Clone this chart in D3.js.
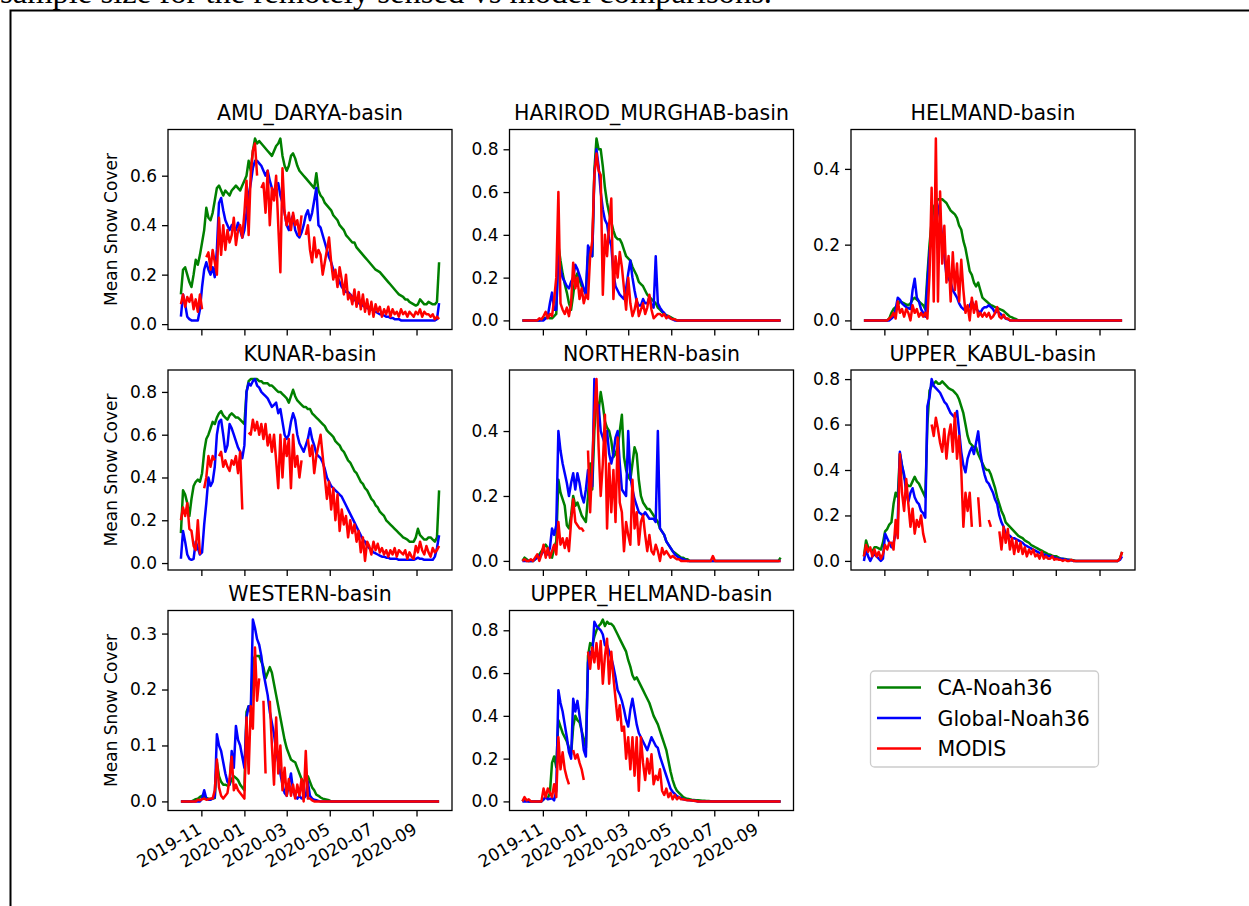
<!DOCTYPE html>
<html>
<head>
<meta charset="utf-8">
<script src="https://cdn.jsdelivr.net/npm/d3@7"></script>
<style>
  body { margin: 0; background: #fff; }
  svg { display: block; }
  text { font-family: "DejaVu Sans", sans-serif; fill: #000; }
</style>
</head>
<body>
<div id="chart"></div>
<script>
// panel titles, series names, ticks
const panelNames = ["AMU_DARYA-basin", "HARIROD_MURGHAB-basin", "HELMAND-basin",
  "KUNAR-basin", "NORTHERN-basin", "UPPER_KABUL-basin", "WESTERN-basin", "UPPER_HELMAND-basin"]
const seriesNames = ["CA-Noah36", "Global-Noah36", "MODIS"]
const xTickLabels = ["2019-11", "2020-01", "2020-03", "2020-05", "2020-07", "2020-09"]
const yTickValues = [[0, .2, .4, .6], [0, .2, .4, .6, .8], [0, .2, .4], [0, .2, .4, .6, .8],
  [0, .2, .4], [0, .2, .4, .6, .8], [0, .1, .2, .3], [0, .2, .4, .6, .8]]

// one value every 3 days from 2019-10-03
const firstDay = "2019-10-03"
const stepDays = 3

const amuCA = [.12,.22,.23,.20,.17,.15,.20,.26,.24,.28,
.33,.38,.47,.43,.42,.45,.50,.55,.56,.54,
.52,.54,.53,.52,.54,.55,.56,.55,.54,.56,
.58,.60,.66,.62,.70,.75,.73,.74,.73,.72,
.71,.70,.69,.68,.70,.72,.73,.75,.68,.64,
.62,.64,.68,.69,.67,.64,.62,.61,.60,.59,
.58,.57,.56,.55,.61,.54,.52,.51,.49,.48,
.47,.46,.44,.43,.42,.40,.39,.38,.36,.35,
.34,.33,.33,.31,.30,.29,.28,.27,.26,.25,
.24,.23,.22,.215,.21,.20,.19,.18,.17,.16,
.15,.14,.13,.12,.115,.11,.10,.10,.09,.085,
.08,.075,.08,.10,.09,.08,.08,.09,.085,.08,
.08,.09,.25]
const amuGlobal = [.03,.12,.08,.03,.02,.015,.015,.015,.015,.06,
.15,.22,.25,.22,.20,.23,.19,.30,.49,.51,
.46,.42,.40,.38,.40,.39,.38,.41,.38,.35,
.38,.45,.52,.57,.63,.66,.66,.65,.64,.62,
.60,.62,.58,.55,.53,.56,.57,.52,.49,.45,
.40,.38,.42,.44,.38,.36,.35,.37,.40,.44,
.46,.42,.45,.50,.55,.40,.39,.36,.33,.30,
.27,.25,.22,.20,.19,.17,.15,.14,.13,.13,
.12,.11,.10,.09,.085,.08,.075,.07,.065,.06,
.06,.055,.05,.045,.04,.04,.035,.03,.03,.025,
.025,.02,.02,.02,.015,.015,.015,.015,.015,.015,
.015,.015,.015,.015,.015,.015,.015,.015,.015,.015,
.015,.02,.085]
const amuModis = [.08,.12,.07,.11,.09,.12,.06,.10,.05,.12,
.06,null,.27,.29,.22,.30,.25,.20,.43,.28,
.40,.30,.38,.33,.36,.43,.32,.38,.40,.35,
.45,.58,.36,.61,.70,.73,.60,null,.55,.57,
.45,.62,.40,.55,.50,.60,.40,.21,.63,.45,
.40,.45,.38,.45,.40,.42,.36,.44,null,.36,
.40,.30,.25,.35,.27,.30,.28,.20,.25,.30,
.35,.25,.18,.22,.15,.23,.18,.12,.20,.10,
.12,.08,.14,.07,.13,.06,.12,.05,.10,.04,
.09,.03,.08,.05,.07,.03,.06,.04,.07,.03,
.06,.04,.05,.03,.06,.04,.05,.03,.05,.04,
.03,.05,.04,.06,.03,.05,.04,.04,.03,.04,
.02,.03,.02]

const harCA = [0,0,0,0,0,0,0,0,0,.005,
.01,.01,.02,.01,.01,.02,.03,.35,.28,.22,
.17,.13,.08,.05,.12,.20,.22,.19,.16,.14,
.13,.30,.34,.30,.70,.85,.80,.80,.72,.62,
.55,.50,.46,.42,.39,.38,.38,.36,.33,.30,
.29,.28,.25,.23,.21,.18,.17,.16,.14,.12,
.11,.10,.09,.08,.06,.05,.04,.03,.025,.02,
.015,.01,.005,0,0,0,0,0,0,0,
0,0,0,0,0,0,0,0,0,0,
0,0,0,0,0,0,0,0,0,0,
0,0,0,0,0,0,0,0,0,0,
0,0,0,0,0,0,0,0,0,0,
0,0,0]
const harGlobal = [0,0,0,0,0,0,0,0,0,0,
0,.01,.02,.08,.13,.05,.05,.30,.24,.20,
.18,.16,.15,.18,.20,.26,.24,.21,.18,.15,
.12,.35,.32,.30,.68,.80,.72,.60,.52,.47,
.45,.38,.35,.22,.16,.14,.12,.11,.10,.15,
.22,.28,.20,.14,.09,.07,.07,.10,.08,.08,
.11,.07,.06,.30,.08,.06,.045,.035,.02,.015,
.01,.005,0,0,0,0,0,0,0,0,
0,0,0,0,0,0,0,0,0,0,
0,0,0,0,0,0,0,0,0,0,
0,0,0,0,0,0,0,0,0,0,
0,0,0,0,0,0,0,0,0,0,
0,0,0]
const harModis = [0,0,0,0,0,0,0,0,.01,.005,
.02,.04,.01,.03,.02,.10,.20,.60,.08,.05,
.03,.06,.02,.08,.27,.15,.20,.10,.15,.08,
.12,.10,.30,.37,.68,.78,.70,.68,.12,.40,
.30,.45,.57,.10,.30,.20,.32,.25,.15,.05,
.20,.08,.02,.05,.10,.02,.05,.08,.03,.06,
.12,.05,.01,.02,.03,.03,.02,.03,.01,.02,
.01,.005,.005,0,0,0,0,0,0,0,
0,0,0,0,0,0,0,0,0,0,
0,0,0,0,0,0,0,0,0,0,
0,0,0,0,0,0,0,0,0,0,
0,0,0,0,0,0,0,0,0,0,
0,0,0]

const helCA = [0,0,0,0,0,0,0,0,0,0,
0,0,.005,.02,.03,.035,.04,.05,.048,.045,
.042,.04,.045,.055,.06,.055,.05,.045,.04,.03,
.12,.20,.26,.30,.31,.32,.32,.32,.315,.31,
.30,.29,.285,.28,.27,.25,.24,.21,.19,.16,
.13,.12,.10,.09,.10,.08,.06,.055,.05,.045,
.04,.038,.035,.033,.03,.028,.025,.02,.015,.01,
.008,.005,.003,0,0,0,0,0,0,0,
0,0,0,0,0,0,0,0,0,0,
0,0,0,0,0,0,0,0,0,0,
0,0,0,0,0,0,0,0,0,0,
0,0,0,0,0,0,0,0,0,0,
0,0,0]
const helGlobal = [0,0,0,0,0,0,0,0,0,0,
0,0,0,.005,.01,.03,.06,.055,.045,.04,
.035,.032,.03,.08,.11,.06,.05,.03,.02,.01,
.10,.18,.23,.22,.32,.30,.27,.22,.17,.12,
.11,.10,.08,.07,.06,.045,.035,.03,.025,.03,
.04,.05,.04,.03,.025,.02,.03,.035,.035,.04,
.035,.03,.02,.025,.02,.015,.01,.005,.003,0,
0,0,0,0,0,0,0,0,0,0,
0,0,0,0,0,0,0,0,0,0,
0,0,0,0,0,0,0,0,0,0,
0,0,0,0,0,0,0,0,0,0,
0,0,0,0,0,0,0,0,0,0,
0,0,0]
const helModis = [0,0,0,0,0,0,0,0,0,0,
0,0,.005,.01,.02,.005,.05,.02,.03,.01,
.03,.02,0,.04,.02,.03,.01,.02,.01,.02,
.005,.12,.35,.05,.48,.05,.34,.15,.25,.10,
.17,.05,.18,.08,.15,.05,.16,.08,.02,.04,
0,.06,.02,.05,.01,.02,.01,.02,.01,.02,
.005,.01,.02,.035,.01,.005,.015,.005,.005,0,
0,0,0,0,0,0,0,0,0,0,
0,0,0,0,0,0,0,0,0,0,
0,0,0,0,0,0,0,0,0,0,
0,0,0,0,0,0,0,0,0,0,
0,0,0,0,0,0,0,0,0,0,
0,0,0]

const kunCA = [.14,.34,.32,.28,.22,.30,.36,.38,.39,.38,
.42,.52,.58,.60,.63,.66,.65,.68,.70,.71,
.69,.68,.67,.69,.70,.69,.68,.68,.67,.66,
.65,.80,.85,.86,.86,.86,.86,.85,.85,.84,
.84,.84,.83,.83,.82,.81,.80,.80,.79,.78,
.77,.75,.78,.81,.78,.76,.75,.74,.73,.73,
.72,.72,.70,.69,.68,.67,.66,.65,.64,.62,
.61,.60,.59,.57,.56,.55,.53,.52,.50,.48,
.47,.45,.43,.42,.40,.38,.37,.35,.34,.32,
.30,.29,.27,.26,.24,.23,.22,.20,.19,.18,
.17,.16,.15,.14,.13,.12,.115,.11,.10,.10,
.10,.12,.16,.13,.12,.11,.11,.12,.12,.11,
.10,.12,.34]
const kunGlobal = [.02,.15,.10,.04,.02,.015,.02,.10,.07,.04,
.05,.18,.28,.40,.36,.38,.45,.60,.66,.67,
.60,.52,.55,.65,.63,.60,.57,.54,.52,.49,
.55,.80,.84,.83,.85,.86,.83,.82,.80,.79,
.78,.77,.75,.73,.74,.75,.70,.72,.66,.60,
.58,.60,.66,.70,.67,.60,.56,.54,.52,.55,
.58,.63,.58,.55,.51,.50,.49,.47,.44,.40,
.38,.36,.35,.34,.33,.32,.31,.29,.27,.25,
.23,.21,.19,.17,.15,.13,.11,.10,.08,.07,
.06,.05,.045,.04,.035,.03,.03,.025,.025,.02,
.02,.02,.02,.015,.015,.015,.015,.015,.015,.015,
.015,.02,.025,.02,.02,.015,.015,.015,.015,.015,
.03,.07,.13]
const kunModis = [.20,.26,.22,.28,.16,.15,.08,.06,.20,.04,
null,.35,.40,.50,.45,.50,.48,null,.50,.52,
.45,.48,.45,.43,.48,.46,.50,.42,.52,.25,
null,null,.61,.60,.67,.62,.66,.60,.65,.58,
.65,.55,.60,.52,.60,.48,.35,.60,.40,.58,
.50,.58,.35,.60,.45,.50,.40,.48,null,null,
.58,.50,.55,.42,.50,.55,.60,.50,.40,.30,
.38,.25,.35,.20,.32,.15,.25,.18,.22,.12,
.20,.14,.18,.10,.15,.05,.12,.01,.10,.08,
.04,.10,.06,.09,.05,.07,.04,.06,.03,.06,
.04,.07,.03,.06,.05,.04,.06,.02,.05,.03,
.02,.08,.05,.10,.06,.04,.08,.05,.03,.07,
.05,.06,.08]

const norCA = [0,.01,.005,0,0,0,.005,.015,.02,.03,
.04,.05,.04,.02,.01,.04,.06,.25,.21,.19,
.17,.11,.10,.14,.20,.17,.18,.16,.14,.13,
.12,.20,.30,.22,.40,.50,.46,.52,.48,.43,
.41,.40,.37,.32,.33,.35,.40,.45,.32,.28,
.26,.25,.30,.35,.33,.25,.20,.18,.17,.16,
.16,.15,.14,.13,.12,.10,.09,.08,.06,.05,
.04,.03,.025,.02,.015,.01,.01,.005,.005,0,
0,0,0,0,0,0,0,0,0,0,
0,0,0,0,0,0,0,0,0,0,
0,0,0,0,0,0,0,0,0,0,
0,0,0,0,0,0,0,0,0,0,
0,0,.01]
const norGlobal = [0,0,0,0,0,0,.005,.01,.015,.02,
.03,.025,.02,.04,.10,.08,.11,.40,.34,.30,
.27,.24,.20,.24,.27,.22,.27,.24,.20,.18,
.22,.28,.26,.23,.56,.47,.48,.40,.38,.36,
.40,.33,.30,.33,.38,.40,.30,.22,.21,.20,
.40,.26,.22,.19,.17,.15,.145,.14,.15,.14,
.13,.13,.13,.12,.40,.10,.09,.08,.06,.05,
.04,.03,.02,.015,.01,.008,.005,.003,0,0,
0,0,0,0,0,0,0,0,0,0,
0,0,0,0,0,0,0,0,0,0,
0,0,0,0,0,0,0,0,0,0,
0,0,0,0,0,0,0,0,0,0,
0,0,0]
const norModis = [0,.005,0,0,.005,0,.01,.02,0,.02,
.05,.01,.04,.01,.03,.05,.02,.12,.05,.07,
.04,.07,.03,.12,.19,.12,.11,.10,.10,.09,
null,.34,.15,.30,.45,.56,.35,.20,.30,.45,
.10,.30,.15,.28,.12,.38,.18,.15,.03,.12,
.08,.05,.25,.10,.15,.05,.12,.14,.08,.03,
.08,.03,.02,.05,.03,0,.04,.02,.03,.02,
.01,.015,.01,.005,.005,0,0,0,0,0,
0,0,0,0,0,0,0,0,0,0,
.015,0,0,0,0,0,0,0,0,0,
0,0,0,0,0,0,0,0,0,0,
0,0,0,0,0,0,0,0,0,0,
0,0,0]

const kabCA = [.02,.09,.06,.05,.04,.06,.06,.055,.05,.08,
.13,.14,.16,.17,.25,.30,.28,.47,.42,.37,
.34,.33,.33,.35,.37,.35,.34,.32,.30,.28,
.60,.75,.77,.78,.79,.78,.78,.79,.78,.77,
.76,.755,.75,.74,.73,.71,.68,.65,.60,.55,
.52,.51,.50,.50,.47,.45,.43,.41,.40,.40,
.38,.35,.32,.28,.25,.22,.20,.17,.16,.15,
.14,.13,.12,.11,.105,.10,.09,.085,.08,.07,
.065,.06,.055,.05,.045,.04,.035,.03,.027,.023,
.02,.02,.015,.01,.01,.008,.006,.005,.004,.003,
0,0,0,0,0,0,0,0,0,0,
0,0,0,0,0,0,0,0,0,0,
0,.01,.04]
const kabGlobal = [0,.05,.02,0,.02,.03,.02,.01,0,.01,
.12,.10,.08,.06,.08,.12,.18,.48,.42,.38,
.30,.26,.30,.32,.28,.26,.25,.22,.21,.19,
.68,.72,.80,.77,.76,.75,.74,.72,.70,.69,
.67,.65,.64,.63,.66,.57,.48,.42,.39,.45,
.48,.50,.47,.52,.57,.48,.42,.38,.35,.34,
.32,.30,.27,.25,.20,.17,.15,.12,.115,.11,
.10,.10,.095,.09,.085,.08,.07,.065,.06,.055,
.05,.045,.04,.035,.03,.028,.025,.022,.02,.02,
.015,.012,.01,.01,.008,.006,.005,.004,.003,0,
0,0,0,0,0,0,0,0,0,0,
0,0,0,0,0,0,0,0,0,0,
0,.005,.02]
const kabModis = [.02,.07,.04,.06,.02,.05,.02,.04,.01,.03,
.07,.05,.08,.08,.05,.18,.10,.47,.30,.22,
.36,.25,.15,.23,.12,.18,.15,.20,.12,.08,
null,null,.60,.55,.63,.58,.52,.48,.58,.45,
.55,.60,.48,.65,.45,.55,.40,.15,.30,.22,
.30,.15,null,null,.28,.15,null,null,null,.18,
.15,null,null,null,.13,.05,.15,.08,.14,.05,
.10,.03,.09,.04,.08,.03,.06,.02,.05,.03,
.05,.02,.03,.01,.04,.01,.02,.01,.01,.02,
.005,.01,.005,.005,0,.005,0,0,.005,0,
0,0,0,0,0,0,0,0,0,0,
0,0,0,0,0,0,0,0,0,0,
0,.01,.04]

const wesCA = [0,0,0,0,0,0,.002,.004,.005,.008,
.01,.008,.006,.005,.004,.005,.006,.07,.045,.035,
.03,.03,.028,.03,.04,.045,.042,.038,.03,.025,
.02,.16,.17,.16,.25,.26,.26,.26,.25,.24,
.22,.23,.24,.23,.21,.19,.17,.15,.13,.11,
.095,.085,.075,.072,.07,.06,.05,.04,.035,.04,
.045,.035,.025,.02,.012,.01,.007,.005,.004,.003,
.002,0,0,0,0,0,0,0,0,0,
0,0,0,0,0,0,0,0,0,0,
0,0,0,0,0,0,0,0,0,0,
0,0,0,0,0,0,0,0,0,0,
0,0,0,0,0,0,0,0,0,0,
0,0,0]
const wesGlobal = [0,0,0,0,0,0,0,0,0,0,
.005,.02,.005,.003,.003,.005,.008,.12,.10,.09,
.07,.05,.035,.03,.09,.06,.135,.11,.10,.08,
.06,.15,.17,.16,.325,.31,.29,.28,.26,.23,
.21,.19,.16,.14,.12,.09,.07,.05,.03,.015,
.01,.03,.05,.02,.008,.005,.01,.005,.005,.01,
.035,.01,.005,.003,.002,.001,0,0,0,0,
0,0,0,0,0,0,0,0,0,0,
0,0,0,0,0,0,0,0,0,0,
0,0,0,0,0,0,0,0,0,0,
0,0,0,0,0,0,0,0,0,0,
0,0,0,0,0,0,0,0,0,0,
0,0,0]
const wesModis = [0,0,0,0,0,0,0,0,.003,.002,
.004,.005,.003,.004,.005,.005,.02,.075,.025,.01,
.005,.01,.015,.04,.08,.02,.03,.02,.015,.01,
.005,.15,.05,.17,.13,.275,.18,.22,null,.18,
.05,null,.18,.10,.03,.15,.05,.10,.02,.06,
.01,.04,.01,.03,.005,.03,.01,.04,0,.09,
.005,.005,.002,0,0,0,0,0,0,0,
0,0,0,0,0,0,0,0,0,0,
0,0,0,0,0,0,0,0,0,0,
0,0,0,0,0,0,0,0,0,0,
0,0,0,0,0,0,0,0,0,0,
0,0,0,0,0,0,0,0,0,0,
0,0,0]

const uphCA = [0,.01,.005,0,0,0,0,0,0,0,
.01,.02,.015,.04,.18,.21,.16,.38,.35,.32,
.30,.28,.25,.22,.35,.40,.38,.37,.33,.29,
.25,.68,.74,.73,.77,.80,.82,.83,.85,.82,
.84,.83,.83,.82,.80,.78,.76,.74,.72,.70,
.66,.63,.59,.57,.58,.56,.54,.52,.50,.48,
.46,.43,.40,.38,.36,.33,.30,.27,.24,.19,
.14,.10,.07,.05,.04,.03,.02,.015,.012,.01,
.008,.007,.006,.005,.004,.003,.003,.002,.002,.001,
0,0,0,0,0,0,0,0,0,0,
0,0,0,0,0,0,0,0,0,0,
0,0,0,0,0,0,0,0,0,0,
0,0,0]
const uphGlobal = [0,0,0,0,0,0,0,0,0,0,
.01,.02,.01,.012,.015,.005,.05,.52,.46,.42,
.36,.30,.23,.20,.48,.42,.47,.40,.33,.24,
.21,.65,.70,.68,.84,.82,.81,.80,.78,.73,
.73,.70,.67,.63,.58,.52,.50,.47,.43,.38,
.35,.43,.48,.42,.36,.32,.30,.28,.26,.24,
.27,.30,.28,.26,.25,.21,.18,.15,.12,.09,
.06,.045,.035,.025,.02,.015,.01,.008,.006,.005,
.004,.003,.002,0,0,0,0,0,0,0,
0,0,0,0,0,0,0,0,0,0,
0,0,0,0,0,0,0,0,0,0,
0,0,0,0,0,0,0,0,0,0,
0,0,0]
const uphModis = [0,.02,.005,.01,0,0,0,0,0,0,
.06,.02,.06,.04,.02,.08,.02,.30,.15,.23,
.15,.11,.08,null,.24,.20,.22,.18,.15,.10,
null,.70,.62,.72,.65,.74,.62,.75,.55,.68,
.76,.55,.70,.58,.48,.38,.45,.33,.35,.20,
.30,.15,.30,.12,.30,.05,.30,.18,.10,.20,
.13,.22,.08,.12,.10,.15,.05,.03,.06,.02,
.04,.01,.03,.01,.02,.01,.01,.008,.005,.005,
.004,.003,.002,0,0,0,0,0,0,0,
0,0,0,0,0,0,0,0,0,0,
0,0,0,0,0,0,0,0,0,0,
0,0,0,0,0,0,0,0,0,0,
0,0,0]

const panelSeries = [
  [amuCA, amuGlobal, amuModis], [harCA, harGlobal, harModis], [helCA, helGlobal, helModis],
  [kunCA, kunGlobal, kunModis], [norCA, norGlobal, norModis], [kabCA, kabGlobal, kabModis],
  [wesCA, wesGlobal, wesModis], [uphCA, uphGlobal, uphModis]
]

const colors = ["#008000", "#0000ff", "#ff0000"]
const W = 1249, H = 906
const colX = [168, 509.5, 851], rowY = [129.5, 370, 610.5]
const pw = 284, ph = 200

const svg = d3.select('#chart').append('svg')
  .attr('width', W)
  .attr('height', H)
  .style('background-color', '#fff')

// document text cut off at the top of the screenshot, as in the source picture
svg.append('text')
  .attr('x', 0).attr('y', 3)
  .attr('textLength', 772).attr('lengthAdjust', 'spacingAndGlyphs')
  .style('font-family', '"Liberation Serif", serif')
  .style('font-size', '32px')
  .text('sample size for the remotely sensed vs model comparisons.')

svg.append('path')
  .attr('d', 'M1249,10.5H10.5V906')
  .attr('fill', 'none').attr('stroke', '#000').attr('stroke-width', 2)

const parseDay = d3.timeParse('%Y-%m-%d')
const dates = amuCA.map((v, i) => d3.timeDay.offset(parseDay(firstDay), i * stepDays))
const xTickDates = xTickLabels.map(d3.timeParse('%Y-%m'))
const t0 = +dates[0], t1 = +dates[dates.length - 1]
const x = d3.scaleTime()
  .domain([new Date(t0 - 0.05 * (t1 - t0)), new Date(t1 + 0.05 * (t1 - t0))])
  .range([0, pw])

panelNames.forEach(function (name, k) {
  const g = svg.append('g')
    .attr('transform', `translate(${colX[k % 3]},${rowY[Math.floor(k / 3)]})`)

  const all = panelSeries[k].flat().filter(v => v != null)
  const lo = d3.min(all), hi = d3.max(all), pad = 0.05 * (hi - lo)
  const y = d3.scaleLinear().domain([lo - pad, hi + pad]).range([ph, 0])

  const line = d3.line()
    .defined(v => v != null)
    .x((v, i) => x(dates[i]))
    .y(v => y(v))

  panelSeries[k].forEach(function (s, j) {
    g.append('path')
      .datum(s)
      .attr('d', line)
      .attr('fill', 'none')
      .attr('stroke', colors[j])
      .attr('stroke-width', 2.5)
      .attr('stroke-linejoin', 'round')
  })

  const yAx = g.append('g')
    .call(d3.axisLeft(y).tickValues(yTickValues[k]).tickFormat(d3.format('.1f'))
      .tickSize(6).tickPadding(5).tickSizeOuter(0))
  const xAx = g.append('g')
    .attr('transform', `translate(0,${ph})`)
    .call(d3.axisBottom(x).tickValues(xTickDates)
      .tickFormat((d, i) => k >= 6 ? xTickLabels[i] : '')
      .tickSize(6).tickSizeOuter(0))

  ;[yAx, xAx].forEach(function (ax) {
    ax.select('.domain').remove()
    ax.attr('font-family', null).attr('font-size', null)
    ax.selectAll('.tick line').attr('stroke', '#000').attr('stroke-width', 1.3)
    ax.selectAll('.tick text').style('font-size', '17px').attr('fill', '#000')
  })
  xAx.selectAll('.tick text')
    .attr('x', 0).attr('y', 0).attr('dy', null)
    .attr('text-anchor', 'end')
    .attr('transform', 'translate(1,22) rotate(-30)')

  g.append('rect')
    .attr('width', pw).attr('height', ph)
    .attr('fill', 'none').attr('stroke', '#000').attr('stroke-width', 1.3)

  g.append('text')
    .attr('x', pw / 2).attr('y', -9.5)
    .attr('text-anchor', 'middle')
    .style('font-size', '20.5px')
    .text(name)

  if (k % 3 === 0) {
    g.append('text')
      .attr('transform', `translate(-51,${ph / 2}) rotate(-90)`)
      .attr('text-anchor', 'middle')
      .style('font-size', '17px')
      .text('Mean Snow Cover')
  }
})

// legend
const lg = svg.append('g').attr('transform', 'translate(870.5,671)')
lg.append('rect')
  .attr('width', 228).attr('height', 96).attr('rx', 4)
  .attr('fill', '#fff').attr('stroke', '#ccc').attr('stroke-width', 1.3)
seriesNames.forEach(function (s, j) {
  const yy = 16.5 + j * 30.5
  lg.append('line')
    .attr('x1', 6.5).attr('x2', 50.5).attr('y1', yy).attr('y2', yy)
    .attr('stroke', colors[j]).attr('stroke-width', 2.5)
  lg.append('text')
    .attr('x', 67).attr('y', yy + 7.5)
    .style('font-size', '20.5px')
    .text(s)
})
</script>
</body>
</html>
